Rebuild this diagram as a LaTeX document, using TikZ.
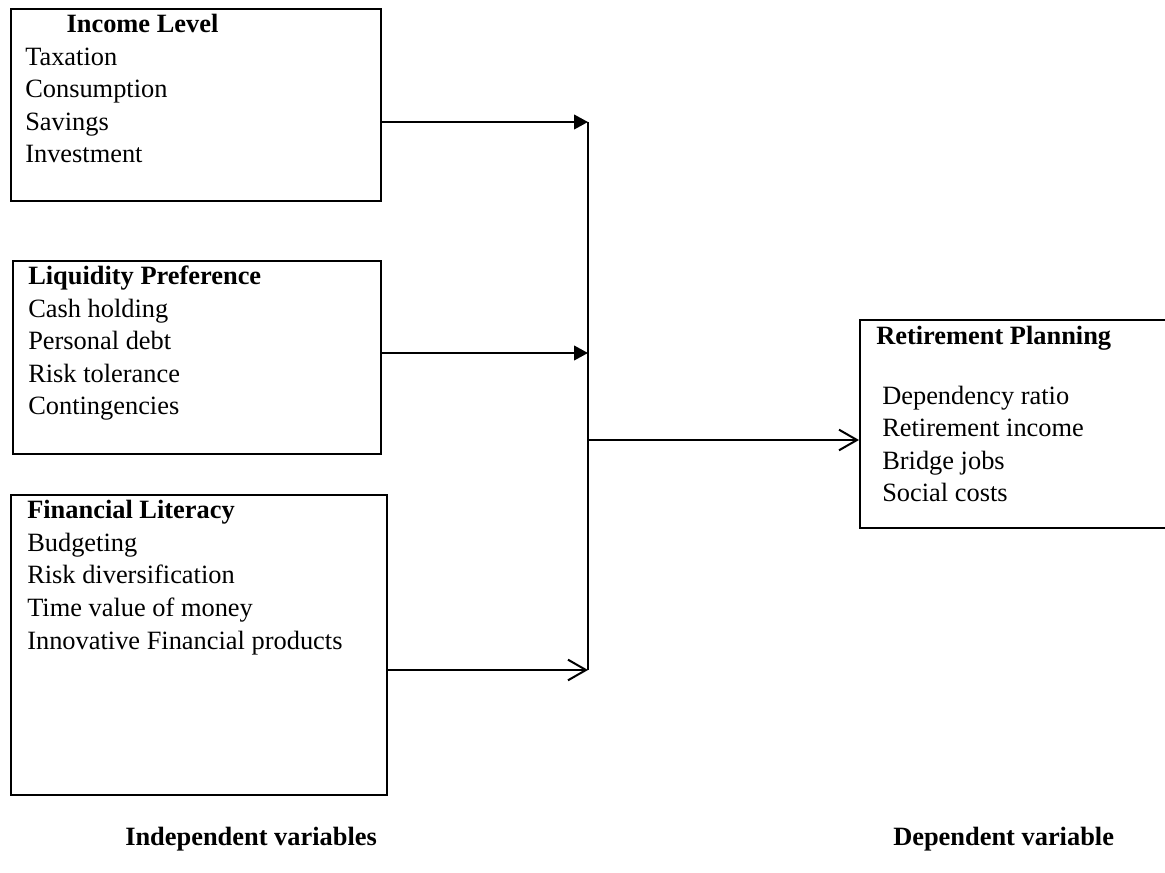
\documentclass[tikz,border=0pt]{standalone}
\usepackage{fontspec}
\setmainfont{Liberation Serif}
\usetikzlibrary{arrows.meta,positioning,fit}
\tikzset{
  varbox/.style={draw, line width=1.5pt, inner sep=0pt},
  boxtext/.style={align=left, inner sep=0pt, anchor=base west,
    font=\fontsize{19.8pt}{24.4pt}\selectfont},
  headtext/.style={boxtext, font=\fontsize{19.8pt}{24.4pt}\selectfont\bfseries},
  filledarr/.style={-{Triangle[length=10.5pt,width=11pt]}, line width=1.5pt},
  openarr/.style={-{Straight Barb[length=13.5pt,width=15.5pt]}, line width=1.5pt},
  joinline/.style={line width=1.5pt}
}
\begin{document}
\begin{tikzpicture}[x=0.75pt, y=-0.75pt]
  \useasboundingbox (0,0) rectangle (1165,873);
  % independent variables (text nodes sit on the baseline of their last line)
  \node[varbox, fit={(11,9) (381,201)}] (income) {};
  \node[varbox, fit={(13,261) (381,454)}] (liquidity) {};
  \node[varbox, fit={(11,495) (387,795)}] (literacy) {};
  \node[boxtext] (incometext) at (25,163)
    {\hspace*{31pt}\textbf{Income Level}\\Taxation\\Consumption\\Savings\\Investment};
  \node[boxtext] (liquiditytext) at (28,415)
    {\textbf{Liquidity Preference}\\Cash holding\\Personal debt\\Risk tolerance\\Contingencies};
  \node[boxtext] (literacytext) at (27,649)
    {\textbf{Financial Literacy}\\Budgeting\\Risk diversification\\Time value of money\\Innovative Financial products};
  % dependent variable
  \node[varbox, fit={(860,320) (1180,528)}] (retire) {};
  \node[boxtext] (retirehead) at (876,345) {\textbf{Retirement Planning}};
  \node[boxtext] (retireitems) at (882,502)
    {Dependency ratio\\Retirement income\\Bridge jobs\\Social costs};
  % captions
  \node[headtext] (indeplabel) at (125,845) {Independent variables};
  \node[headtext] (deplabel) at (893,845) {Dependent variable};
  % connectors
  \coordinate (join1) at (588,122);
  \coordinate (join2) at (588,353);
  \coordinate (join3) at (588,670);
  \coordinate (joinmid) at (588,440);
  \draw[joinline] (join1) -- (join3);
  \draw[filledarr] (income.east |- join1) -- (join1);
  \draw[filledarr] (liquidity.east |- join2) -- (join2);
  \draw[openarr] (literacy.east |- join3) -- (join3);
  \draw[openarr] (joinmid) -- (retire.west |- joinmid);
\end{tikzpicture}
\end{document}
